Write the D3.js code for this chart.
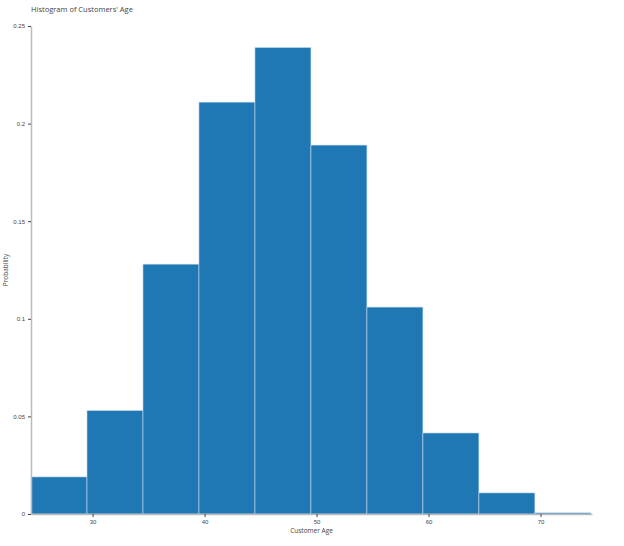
<!DOCTYPE html>
<html lang="en">
<head>
<meta charset="UTF-8">
<title>Histogram of Customers' Age</title>
<script src="https://cdn.jsdelivr.net/npm/d3@7"></script>
<style>
  body { margin: 0; background: #fff; font-family: "Open Sans", "DejaVu Sans", sans-serif; }
  .tick text { font-size: 6px; fill: #444; }
  .tick line { stroke: #444; }
  .domain { stroke: #bbb; stroke-width: 1.5; }
</style>
</head>
<body>
<script>
// bin edges (5-year bins) and probability per bin
var binStarts = [24.5, 29.5, 34.5, 39.5, 44.5, 49.5, 54.5, 59.5, 64.5, 69.5],
    binWidth = 5,
    probs = [0.019, 0.053, 0.128, 0.211, 0.239, 0.189, 0.106, 0.0415, 0.0108, 0.0006],
    xTicks = [30, 40, 50, 60, 70],
    yTicks = [0, 0.05, 0.1, 0.15, 0.2, 0.25];

var W = 624, H = 546,
    mLeft = 31, mRight = 592, mTop = 26, mBottom = 514;

var svg = d3.select("body").append("svg").attr("width", W).attr("height", H);

var x = d3.scaleLinear().domain([24.5, 74.6]).range([mLeft, mRight]);
var y = d3.scaleLinear().domain([0, 0.25]).range([mBottom, mTop]);

svg.selectAll("rect.bar")
    .data(probs)
    .enter().append("rect")
    .attr("class", "bar")
    .attr("x", function (d, i) { return x(binStarts[i]); })
    .attr("width", function (d, i) { return x(binStarts[i] + binWidth) - x(binStarts[i]); })
    .attr("y", function (d) { return y(d); })
    .attr("height", function (d) { return mBottom - y(d); })
    .attr("fill", "#1f77b4")
    .attr("stroke", "#c6dbef")
    .attr("stroke-width", 0.6);

svg.append("g")
    .attr("transform", "translate(0," + mBottom + ")")
    .call(d3.axisBottom(x).tickValues(xTicks).tickSize(3).tickSizeOuter(0).tickPadding(3));

svg.append("g")
    .attr("transform", "translate(" + mLeft + ",0)")
    .call(d3.axisLeft(y).tickValues(yTicks).tickFormat(function (d) { return d3.format("~g")(d); })
        .tickSize(3).tickSizeOuter(0).tickPadding(3));

svg.append("text").attr("x", 31).attr("y", 12)
    .attr("font-size", 7.5).attr("fill", "#444")
    .text("Histogram of Customers' Age");

svg.append("text").attr("x", (mLeft + mRight) / 2).attr("y", 533)
    .attr("text-anchor", "middle").attr("font-size", 6.5).attr("fill", "#444")
    .text("Customer Age");

svg.append("text")
    .attr("transform", "translate(8," + (mTop + mBottom) / 2 + ") rotate(-90)")
    .attr("text-anchor", "middle").attr("font-size", 6.5).attr("fill", "#444")
    .text("Probability");
</script>
</body>
</html>
